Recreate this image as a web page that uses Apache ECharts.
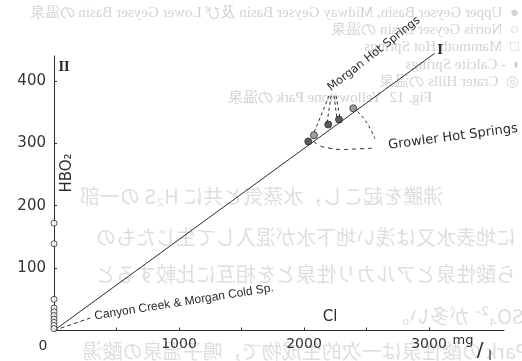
<!DOCTYPE html>
<html>
<head>
<meta charset="utf-8">
<script src="https://cdn.jsdelivr.net/npm/echarts@6/dist/echarts.min.js"></script>
<style>
  html, body { margin: 0; padding: 0; background: #fff; }
  #chart { width: 522px; height: 361px; }
</style>
</head>
<body>
<div id="chart"></div>
<script>
// Cl (mg/l) against HBO2 (mg/l) for hot-spring waters

const xTickValues = [500, 1000, 1500, 2000, 2500, 3000];
const xLabelValues = [0, 1000, 2000, 3000];
const yTickValues = [100, 200, 300, 400];
const yLabelValues = [100, 200, 300, 400];

// chloride-free samples, plotted on the HBO2 axis
const axisSampleHBO2 = [172, 139, 50, 36, 30, 24, 18, 13, 8, 3];
// Morgan / Growler samples as [Cl, HBO2]
const solidSamples = [[2034, 303], [2194, 330], [2280, 338]];
const shadedSamples = [[2080, 313], [2394, 356]];
// trend line I
const lineI = [[0, 0], [3045, 444]];
// Canyon Creek & Morgan Cold Sp. mixing line
const canyonLine = [[0, 0], [290, 20]];
// dashed leaders from the Morgan Hot Springs label to its samples
const morganGuides = [
  [[2200, 376], [2080, 317]],
  [[2216, 376], [2184, 332]],
  [[2240, 376], [2264, 339]],
  [[2256, 376], [2288, 340]]
];
// dashed bracket around the Growler Hot Springs samples
const growlerArc = [[2392, 357], [2432, 350], [2488, 337], [2536, 321], [2568, 307]];
const growlerBase = [[2544, 292], [2424, 291], [2312, 290], [2208, 292], [2128, 296], [2072, 304]];

// faint text showing through from the reverse side of the printed page
const reverseLegend = [
  '●  Upper Geyser Basin, Midway Geyser Basin 及び Lower Geyser Basin の温泉',
  '○  Norris Geyser Basin の温泉',
  '□  Mammoth Hot Springs',
  '◐ - Calcite Springs',
  '◎  Crater Hills の温泉'
];
const reverseTitle = 'Fig. 12  Yellowstone Park の温泉';
const reverseBodyEnds = [
  '沸騰を起こし，水蒸気と共に H₂S の一部',
  'に地表水又は浅い地下水が混入して生じたもの',
  'ら酸性泉とアルカリ性泉とを相互に比較すると'
];
const reverseBodyStarts = [
  'SO₄²⁻ が多い。',
  'Park の酸性泉は一次的生成物で，鳴子温泉の酸湯'
];

const INK = '#2b2b2b';
const GHOST = '#d3d3d3';
const SANS = '"DejaVu Sans", sans-serif';
const SERIF = '"DejaVu Serif", "Liberation Serif", serif';
const CJK = '"Noto Sans CJK JP", sans-serif';

const dashed = { color: INK, width: 1, type: [4, 3] };

const series = [
  {
    type: 'line', data: lineI, showSymbol: false, clip: false, silent: true,
    lineStyle: { color: INK, width: 1 }, z: 3
  },
  {
    type: 'line', data: canyonLine, showSymbol: false, silent: true,
    lineStyle: dashed, z: 3
  },
  ...morganGuides.map(g => ({
    type: 'line', data: g, showSymbol: false, silent: true,
    lineStyle: { color: INK, width: 1, type: [3, 3] }, z: 3
  })),
  {
    type: 'line', data: growlerArc, smooth: true, showSymbol: false, silent: true,
    lineStyle: { color: INK, width: 1, type: [3, 3] }, z: 3
  },
  {
    type: 'line', data: growlerBase, smooth: true, showSymbol: false, silent: true,
    lineStyle: { color: INK, width: 1, type: [4, 4] }, z: 3
  },
  {
    type: 'scatter', data: axisSampleHBO2.map(v => [0, v]), clip: false,
    symbol: 'circle', symbolSize: 6,
    itemStyle: { color: '#fff', borderColor: INK, borderWidth: 1 }, z: 5
  },
  {
    type: 'scatter', data: shadedSamples, clip: false,
    symbol: 'circle', symbolSize: 7,
    itemStyle: { color: '#8a8a8a', borderColor: INK, borderWidth: 1 }, z: 5
  },
  {
    type: 'scatter', data: solidSamples, clip: false,
    symbol: 'circle', symbolSize: 7,
    itemStyle: { color: '#333', borderColor: INK, borderWidth: 1 }, z: 5
  }
];

// mirrored page-through text: anchor at the right end (align left) or left end (align right)
function mirrored(text, x, y, font, align, fill) {
  return {
    type: 'text', x, y, scaleX: -1, z: -10, silent: true,
    style: { text, font, fill: fill || GHOST, align, verticalAlign: 'middle' }
  };
}

const ghost = [
  ...reverseLegend.map((t, i) => mirrored(t, 519, 13 + i * 17.2, '15px "Liberation Serif", serif', 'left')),
  mirrored(reverseTitle, 432, 98, '15px "Liberation Serif", serif', 'left', '#d0d0d0'),
  ...reverseBodyEnds.map((t, i) => mirrored(t, [80, 96, 96][i], [196, 237, 274][i], '20px ' + CJK, 'right', '#dedede')),
  mirrored(reverseBodyStarts[0], 524, 316, '20px ' + CJK, 'left', '#dedede'),
  mirrored(reverseBodyStarts[1], 528, 351, '20px ' + CJK, 'left', '#dedede')
];

const chart = echarts.init(document.getElementById('chart'), null, { renderer: 'canvas' });

chart.setOption({
  animation: false,
  backgroundColor: '#fff',
  grid: { left: 54, top: 55.9, width: 450, height: 274.6, containLabel: false },
  xAxis: {
    type: 'value', min: 0, max: 3600,
    axisLine: { show: true, onZero: false, lineStyle: { color: INK, width: 1 } },
    axisTick: { show: true, inside: true, length: 3, customValues: xTickValues, lineStyle: { color: INK } },
    splitLine: { show: false },
    axisLabel: {
      customValues: xLabelValues,
      margin: 7,
      color: '#333',
      fontFamily: SANS,
      fontSize: 14,
      formatter: v => (v === 0 ? '{z|0}' : String(v)),
      rich: { z: { fontFamily: SANS, fontSize: 14, color: '#333', padding: [2, 22, 0, 0] } }
    }
  },
  yAxis: {
    type: 'value', min: 0, max: 440,
    axisLine: { show: true, onZero: false, lineStyle: { color: INK, width: 1 } },
    axisTick: { show: true, inside: true, length: 3, customValues: yTickValues, lineStyle: { color: INK } },
    splitLine: { show: false },
    axisLabel: {
      customValues: yLabelValues,
      margin: 8,
      color: '#333',
      fontFamily: SANS,
      fontSize: 15,
      padding: [4, 0, 0, 0]
    }
  },
  series,
  graphic: [
    ...ghost,
    { type: 'text', x: 64, y: 68, style: { text: 'II', font: 'bold 12px ' + SERIF, fill: INK, align: 'center', verticalAlign: 'middle' } },
    { type: 'text', x: 440, y: 51, style: { text: 'I', font: 'bold 12px ' + SERIF, fill: INK, align: 'center', verticalAlign: 'middle' } },
    { type: 'text', x: 67, y: 173, rotation: Math.PI / 2, style: { text: 'HBO₂', font: '15px ' + SANS, fill: INK, align: 'center', verticalAlign: 'middle' } },
    { type: 'text', x: 330, y: 317, style: { text: 'Cl', font: '15px ' + SANS, fill: INK, align: 'center', verticalAlign: 'middle' } },
    { type: 'text', x: 463, y: 341, style: { text: 'mg', font: '13px ' + SANS, fill: INK, align: 'center', verticalAlign: 'middle' } },
    { type: 'text', x: 480, y: 351, style: { text: '/', font: '20px ' + SANS, fill: INK, align: 'center', verticalAlign: 'middle' } },
    { type: 'text', x: 490, y: 357, style: { text: 'l', font: '13px ' + SANS, fill: INK, align: 'center', verticalAlign: 'middle' } },
    { type: 'text', x: 374, y: 54, rotation: 38 * Math.PI / 180, style: { text: 'Morgan Hot Springs', font: '11.5px ' + SANS, fill: INK, align: 'center', verticalAlign: 'middle' } },
    { type: 'text', x: 453, y: 137, rotation: 7.5 * Math.PI / 180, style: { text: 'Growler Hot Springs', font: '13px ' + SANS, fill: INK, align: 'center', verticalAlign: 'middle' } },
    { type: 'text', x: 184, y: 302, rotation: 9 * Math.PI / 180, style: { text: 'Canyon Creek & Morgan Cold Sp.', font: '12px "Liberation Sans", sans-serif', fill: INK, align: 'center', verticalAlign: 'middle' } }
  ]
});
</script>
</body>
</html>
